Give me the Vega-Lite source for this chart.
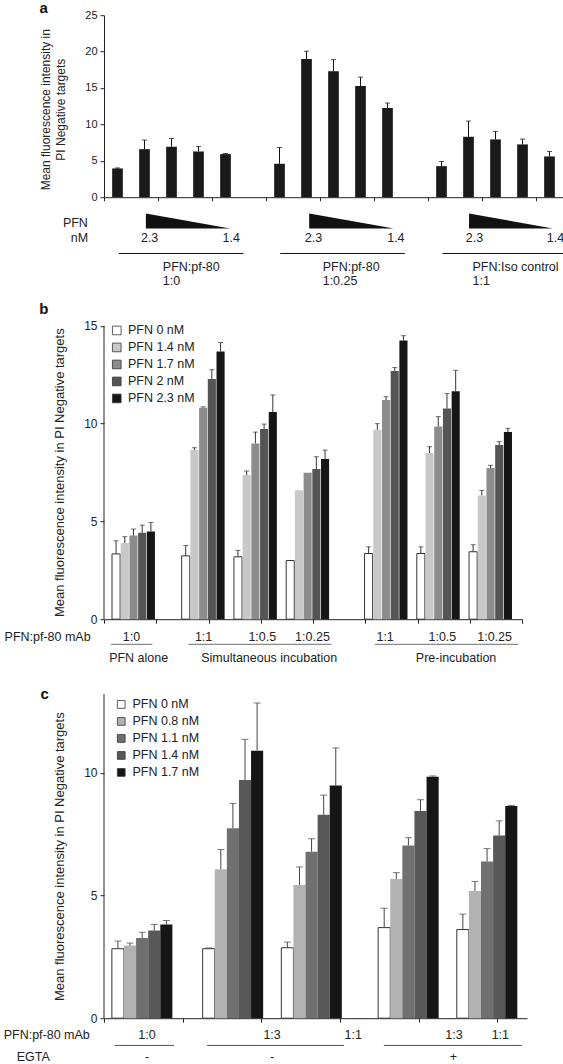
{
  "$schema": "https://vega.github.io/schema/vega-lite/v6.json",
  "background": "white",
  "padding": {"left": 3, "top": 0.2, "right": 0, "bottom": 0},
  "autosize": {"type": "pad"},
  "bounds": "flush",
  "spacing": 20,
  "config": {
    "font": "Liberation Sans",
    "view": {"stroke": null},
    "axis": {"grid": false, "domainColor": "#222", "tickColor": "#222", "labelColor": "#222", "titleColor": "#222", "labelFont": "Liberation Sans", "titleFont": "Liberation Sans", "titleFontWeight": "normal", "tickSize": 4, "labelPadding": 3, "domainWidth": 1, "tickWidth": 1, "labelOverlap": false},
    "legend": {"labelFont": "Liberation Sans", "labelColor": "#222"}
  },
  "resolve": {"scale": {"fill": "independent"}, "legend": {"fill": "independent"}},
  "datasets": {
    "a_bars": [
      {"group": "PFN:pf-80 1:0", "pfn": "0", "bar": "1:0 0", "value": 3.95, "upper": 4.02},
      {"group": "PFN:pf-80 1:0", "pfn": "2.3", "bar": "1:0 2.3", "value": 6.6, "upper": 7.84},
      {"group": "PFN:pf-80 1:0", "pfn": "2", "bar": "1:0 2", "value": 6.93, "upper": 8.07},
      {"group": "PFN:pf-80 1:0", "pfn": "1.7", "bar": "1:0 1.7", "value": 6.28, "upper": 6.97},
      {"group": "PFN:pf-80 1:0", "pfn": "1.4", "bar": "1:0 1.4", "value": 5.92, "upper": 6.0},
      {"group": "PFN:pf-80 1:0.25", "pfn": "0", "bar": "1:0.25 0", "value": 4.59, "upper": 6.83},
      {"group": "PFN:pf-80 1:0.25", "pfn": "2.3", "bar": "1:0.25 2.3", "value": 18.99, "upper": 20.05},
      {"group": "PFN:pf-80 1:0.25", "pfn": "2", "bar": "1:0.25 2", "value": 17.29, "upper": 18.9},
      {"group": "PFN:pf-80 1:0.25", "pfn": "1.7", "bar": "1:0.25 1.7", "value": 15.28, "upper": 16.5},
      {"group": "PFN:pf-80 1:0.25", "pfn": "1.4", "bar": "1:0.25 1.4", "value": 12.25, "upper": 12.94},
      {"group": "PFN:Iso control 1:1", "pfn": "0", "bar": "Iso 0", "value": 4.27, "upper": 4.9},
      {"group": "PFN:Iso control 1:1", "pfn": "2.3", "bar": "Iso 2.3", "value": 8.3, "upper": 10.46},
      {"group": "PFN:Iso control 1:1", "pfn": "2", "bar": "Iso 2", "value": 7.94, "upper": 9.04},
      {"group": "PFN:Iso control 1:1", "pfn": "1.7", "bar": "Iso 1.7", "value": 7.25, "upper": 7.98},
      {"group": "PFN:Iso control 1:1", "pfn": "1.4", "bar": "Iso 1.4", "value": 5.6, "upper": 6.28}
    ],
    "a_text_c": [
      {"t": "PFN", "xu": -1.06, "yv": -3.61},
      {"t": "nM", "xu": -0.91, "yv": -5.67},
      {"t": "2.3", "xu": 1.69, "yv": -5.67},
      {"t": "1.4", "xu": 4.71, "yv": -5.67},
      {"t": "2.3", "xu": 7.76, "yv": -5.67},
      {"t": "1.4", "xu": 10.81, "yv": -5.67},
      {"t": "2.3", "xu": 13.72, "yv": -5.67},
      {"t": "1.4", "xu": 16.72, "yv": -5.67}
    ],
    "a_text_l": [
      {"t": "PFN:pf-80", "xu": 2.18, "yv": -9.57},
      {"t": "1:0", "xu": 2.18, "yv": -11.54},
      {"t": "PFN:pf-80", "xu": 8.1, "yv": -9.57},
      {"t": "1:0.25", "xu": 8.1, "yv": -11.54},
      {"t": "PFN:Iso control", "xu": 13.65, "yv": -9.57},
      {"t": "1:1", "xu": 13.65, "yv": -11.54}
    ],
    "a_lines": [
      {"x0": 0.55, "x1": 5.16, "yv": -7.73},
      {"x0": 6.53, "x1": 11.14, "yv": -7.73},
      {"x0": 12.54, "x1": 17.06, "yv": -7.73}
    ],
    "a_tri": [
      {"tri": 1, "xu": 1.55, "top": -2.24, "bot": -4.3},
      {"tri": 1, "xu": 4.67, "top": -4.3, "bot": -4.3},
      {"tri": 2, "xu": 7.6, "top": -2.24, "bot": -4.3},
      {"tri": 2, "xu": 10.74, "top": -4.3, "bot": -4.3},
      {"tri": 3, "xu": 13.52, "top": -2.24, "bot": -4.3},
      {"tri": 3, "xu": 16.63, "top": -4.3, "bot": -4.3}
    ],
    "b_bars": [
      {"section": "PFN alone", "ratio": "1:0", "pfn": "PFN 0 nM", "bar": "1:0 0", "value": 3.34, "upper": 4.01},
      {"section": "PFN alone", "ratio": "1:0", "pfn": "PFN 1.4 nM", "bar": "1:0 1.4", "value": 3.89, "upper": 4.22},
      {"section": "PFN alone", "ratio": "1:0", "pfn": "PFN 1.7 nM", "bar": "1:0 1.7", "value": 4.28, "upper": 4.61},
      {"section": "PFN alone", "ratio": "1:0", "pfn": "PFN 2 nM", "bar": "1:0 2", "value": 4.42, "upper": 4.81},
      {"section": "PFN alone", "ratio": "1:0", "pfn": "PFN 2.3 nM", "bar": "1:0 2.3", "value": 4.49, "upper": 4.95},
      {"section": "Simultaneous incubation", "ratio": "1:1", "pfn": "PFN 0 nM", "bar": "S1:1 0", "value": 3.24, "upper": 3.77},
      {"section": "Simultaneous incubation", "ratio": "1:1", "pfn": "PFN 1.4 nM", "bar": "S1:1 1.4", "value": 8.65, "upper": 8.77},
      {"section": "Simultaneous incubation", "ratio": "1:1", "pfn": "PFN 1.7 nM", "bar": "S1:1 1.7", "value": 10.82, "upper": 10.86},
      {"section": "Simultaneous incubation", "ratio": "1:1", "pfn": "PFN 2 nM", "bar": "S1:1 2", "value": 12.29, "upper": 12.76},
      {"section": "Simultaneous incubation", "ratio": "1:1", "pfn": "PFN 2.3 nM", "bar": "S1:1 2.3", "value": 13.69, "upper": 14.15},
      {"section": "Simultaneous incubation", "ratio": "1:0.5", "pfn": "PFN 0 nM", "bar": "S1:0.5 0", "value": 3.19, "upper": 3.52},
      {"section": "Simultaneous incubation", "ratio": "1:0.5", "pfn": "PFN 1.4 nM", "bar": "S1:0.5 1.4", "value": 7.37, "upper": 7.58},
      {"section": "Simultaneous incubation", "ratio": "1:0.5", "pfn": "PFN 1.7 nM", "bar": "S1:0.5 1.7", "value": 8.99, "upper": 9.57},
      {"section": "Simultaneous incubation", "ratio": "1:0.5", "pfn": "PFN 2 nM", "bar": "S1:0.5 2", "value": 9.73, "upper": 9.98},
      {"section": "Simultaneous incubation", "ratio": "1:0.5", "pfn": "PFN 2.3 nM", "bar": "S1:0.5 2.3", "value": 10.6, "upper": 11.47},
      {"section": "Simultaneous incubation", "ratio": "1:0.25", "pfn": "PFN 0 nM", "bar": "S1:0.25 0", "value": 3.0, "upper": 3.0},
      {"section": "Simultaneous incubation", "ratio": "1:0.25", "pfn": "PFN 1.4 nM", "bar": "S1:0.25 1.4", "value": 6.59, "upper": 6.59},
      {"section": "Simultaneous incubation", "ratio": "1:0.25", "pfn": "PFN 1.7 nM", "bar": "S1:0.25 1.7", "value": 7.49, "upper": 7.49},
      {"section": "Simultaneous incubation", "ratio": "1:0.25", "pfn": "PFN 2 nM", "bar": "S1:0.25 2", "value": 7.68, "upper": 8.31},
      {"section": "Simultaneous incubation", "ratio": "1:0.25", "pfn": "PFN 2.3 nM", "bar": "S1:0.25 2.3", "value": 8.19, "upper": 8.65},
      {"section": "Pre-incubation", "ratio": "1:1", "pfn": "PFN 0 nM", "bar": "P1:1 0", "value": 3.36, "upper": 3.7},
      {"section": "Pre-incubation", "ratio": "1:1", "pfn": "PFN 1.4 nM", "bar": "P1:1 1.4", "value": 9.69, "upper": 10.0},
      {"section": "Pre-incubation", "ratio": "1:1", "pfn": "PFN 1.7 nM", "bar": "P1:1 1.7", "value": 11.21, "upper": 11.38},
      {"section": "Pre-incubation", "ratio": "1:1", "pfn": "PFN 2 nM", "bar": "P1:1 2", "value": 12.7, "upper": 12.87},
      {"section": "Pre-incubation", "ratio": "1:1", "pfn": "PFN 2.3 nM", "bar": "P1:1 2.3", "value": 14.25, "upper": 14.5},
      {"section": "Pre-incubation", "ratio": "1:0.5", "pfn": "PFN 0 nM", "bar": "P1:0.5 0", "value": 3.36, "upper": 3.7},
      {"section": "Pre-incubation", "ratio": "1:0.5", "pfn": "PFN 1.4 nM", "bar": "P1:0.5 1.4", "value": 8.5, "upper": 8.82},
      {"section": "Pre-incubation", "ratio": "1:0.5", "pfn": "PFN 1.7 nM", "bar": "P1:0.5 1.7", "value": 9.85, "upper": 10.36},
      {"section": "Pre-incubation", "ratio": "1:0.5", "pfn": "PFN 2 nM", "bar": "P1:0.5 2", "value": 10.78, "upper": 11.54},
      {"section": "Pre-incubation", "ratio": "1:0.5", "pfn": "PFN 2.3 nM", "bar": "P1:0.5 2.3", "value": 11.66, "upper": 12.73},
      {"section": "Pre-incubation", "ratio": "1:0.25", "pfn": "PFN 0 nM", "bar": "P1:0.25 0", "value": 3.45, "upper": 3.81},
      {"section": "Pre-incubation", "ratio": "1:0.25", "pfn": "PFN 1.4 nM", "bar": "P1:0.25 1.4", "value": 6.33, "upper": 6.59},
      {"section": "Pre-incubation", "ratio": "1:0.25", "pfn": "PFN 1.7 nM", "bar": "P1:0.25 1.7", "value": 7.73, "upper": 7.87},
      {"section": "Pre-incubation", "ratio": "1:0.25", "pfn": "PFN 2 nM", "bar": "P1:0.25 2", "value": 8.91, "upper": 9.08},
      {"section": "Pre-incubation", "ratio": "1:0.25", "pfn": "PFN 2.3 nM", "bar": "P1:0.25 2.3", "value": 9.57, "upper": 9.76}
    ],
    "b_text": [
      {"t": "PFN:pf-80 mAb", "xu": -1.08, "yv": -0.905},
      {"t": "1:0", "xu": 0.526, "yv": -0.905},
      {"t": "1:1", "xu": 1.906, "yv": -0.905},
      {"t": "1:0.5", "xu": 3.03, "yv": -0.905},
      {"t": "1:0.25", "xu": 3.99, "yv": -0.905},
      {"t": "1:1", "xu": 5.38, "yv": -0.905},
      {"t": "1:0.5", "xu": 6.476, "yv": -0.905},
      {"t": "1:0.25", "xu": 7.476, "yv": -0.905},
      {"t": "PFN alone", "xu": 0.663, "yv": -1.96},
      {"t": "Simultaneous incubation", "xu": 3.162, "yv": -1.96},
      {"t": "Pre-incubation", "xu": 6.738, "yv": -1.96}
    ],
    "b_lines": [
      {"x0": 0.132, "x1": 0.925, "yv": -1.29},
      {"x0": 1.616, "x1": 4.356, "yv": -1.29},
      {"x0": 5.184, "x1": 7.925, "yv": -1.29}
    ],
    "c_bars": [
      {"ratio": "1:0", "egta": "-", "pfn": "PFN 0 nM", "bar": "1:0- 0", "value": 2.83, "upper": 3.14},
      {"ratio": "1:0", "egta": "-", "pfn": "PFN 0.8 nM", "bar": "1:0- 0.8", "value": 2.96, "upper": 3.06},
      {"ratio": "1:0", "egta": "-", "pfn": "PFN 1.1 nM", "bar": "1:0- 1.1", "value": 3.27, "upper": 3.5},
      {"ratio": "1:0", "egta": "-", "pfn": "PFN 1.4 nM", "bar": "1:0- 1.4", "value": 3.57, "upper": 3.82},
      {"ratio": "1:0", "egta": "-", "pfn": "PFN 1.7 nM", "bar": "1:0- 1.7", "value": 3.82, "upper": 3.98},
      {"ratio": "1:3", "egta": "-", "pfn": "PFN 0 nM", "bar": "1:3- 0", "value": 2.83, "upper": 2.86},
      {"ratio": "1:3", "egta": "-", "pfn": "PFN 0.8 nM", "bar": "1:3- 0.8", "value": 6.07, "upper": 6.87},
      {"ratio": "1:3", "egta": "-", "pfn": "PFN 1.1 nM", "bar": "1:3- 1.1", "value": 7.74, "upper": 8.75},
      {"ratio": "1:3", "egta": "-", "pfn": "PFN 1.4 nM", "bar": "1:3- 1.4", "value": 9.7, "upper": 11.36},
      {"ratio": "1:3", "egta": "-", "pfn": "PFN 1.7 nM", "bar": "1:3- 1.7", "value": 10.9, "upper": 12.84},
      {"ratio": "1:1", "egta": "-", "pfn": "PFN 0 nM", "bar": "1:1- 0", "value": 2.87, "upper": 3.1},
      {"ratio": "1:1", "egta": "-", "pfn": "PFN 0.8 nM", "bar": "1:1- 0.8", "value": 5.43, "upper": 6.16},
      {"ratio": "1:1", "egta": "-", "pfn": "PFN 1.1 nM", "bar": "1:1- 1.1", "value": 6.78, "upper": 7.31},
      {"ratio": "1:1", "egta": "-", "pfn": "PFN 1.4 nM", "bar": "1:1- 1.4", "value": 8.29, "upper": 9.09},
      {"ratio": "1:1", "egta": "-", "pfn": "PFN 1.7 nM", "bar": "1:1- 1.7", "value": 9.48, "upper": 11.01},
      {"ratio": "1:3", "egta": "+", "pfn": "PFN 0 nM", "bar": "1:3+ 0", "value": 3.69, "upper": 4.48},
      {"ratio": "1:3", "egta": "+", "pfn": "PFN 0.8 nM", "bar": "1:3+ 0.8", "value": 5.67, "upper": 5.93},
      {"ratio": "1:3", "egta": "+", "pfn": "PFN 1.1 nM", "bar": "1:3+ 1.1", "value": 7.04, "upper": 7.35},
      {"ratio": "1:3", "egta": "+", "pfn": "PFN 1.4 nM", "bar": "1:3+ 1.4", "value": 8.44, "upper": 8.9},
      {"ratio": "1:3", "egta": "+", "pfn": "PFN 1.7 nM", "bar": "1:3+ 1.7", "value": 9.84, "upper": 9.87},
      {"ratio": "1:1", "egta": "+", "pfn": "PFN 0 nM", "bar": "1:1+ 0", "value": 3.61, "upper": 4.24},
      {"ratio": "1:1", "egta": "+", "pfn": "PFN 0.8 nM", "bar": "1:1+ 0.8", "value": 5.18, "upper": 5.57},
      {"ratio": "1:1", "egta": "+", "pfn": "PFN 1.1 nM", "bar": "1:1+ 1.1", "value": 6.38, "upper": 6.91},
      {"ratio": "1:1", "egta": "+", "pfn": "PFN 1.4 nM", "bar": "1:1+ 1.4", "value": 7.44, "upper": 8.04},
      {"ratio": "1:1", "egta": "+", "pfn": "PFN 1.7 nM", "bar": "1:1+ 1.7", "value": 8.64, "upper": 8.67}
    ],
    "c_text": [
      {"t": "PFN:pf-80 mAb", "xu": -0.728, "yv": -0.676},
      {"t": "1:0", "xu": 0.546, "yv": -0.676},
      {"t": "1:3", "xu": 2.136, "yv": -0.676},
      {"t": "1:1", "xu": 3.166, "yv": -0.676},
      {"t": "1:3", "xu": 4.448, "yv": -0.676},
      {"t": "1:1", "xu": 5.036, "yv": -0.676},
      {"t": "EGTA", "xu": -0.9, "yv": -1.59},
      {"t": "-", "xu": 0.546, "yv": -1.59},
      {"t": "-", "xu": 2.136, "yv": -1.59},
      {"t": "+", "xu": 4.44, "yv": -1.59}
    ],
    "c_lines": [
      {"x0": 0.133, "x1": 0.89, "yv": -1.11},
      {"x0": 1.31, "x1": 3.05, "yv": -1.11},
      {"x0": 3.556, "x1": 5.31, "yv": -1.11}
    ]
  },
  "vconcat": [
    {
      "width": 459,
      "height": 182,
      "resolve": {"scale": {"x": "independent"}},
      "layer": [
        {
          "data": {"name": "a_bars"},
          "layer": [
            {
              "mark": {"type": "bar", "color": "#1a1a1a"},
              "encoding": {
                "x": {"field": "bar", "type": "nominal", "scale": {"domain": ["1:0 0", "1:0 2.3", "1:0 2", "1:0 1.7", "1:0 1.4", "ga5", "1:0.25 0", "1:0.25 2.3", "1:0.25 2", "1:0.25 1.7", "1:0.25 1.4", "ga11", "Iso 0", "Iso 2.3", "Iso 2", "Iso 1.7", "Iso 1.4"], "paddingInner": 0.604, "paddingOuter": 0.302}, "axis": null},
                "y": {"field": "value", "type": "quantitative", "scale": {"domain": [0, 25], "nice": false}, "axis": {"values": [0, 5, 10, 15, 20, 25], "tickCount": 6, "labelOverlap": false, "title": ["Mean fluorescence intensity in", "PI Negative targets"], "labelFontSize": 11, "titleFontSize": 12, "titleLineHeight": 14.5, "titlePadding": 17.5, "titleY": 94}}
              }
            },
            {
              "transform": [{"filter": "datum.upper > datum.value"}],
              "mark": {"type": "rule", "color": "#111", "strokeWidth": 1},
              "encoding": {
                "x": {"field": "bar", "type": "nominal", "axis": null},
                "y": {"field": "value", "type": "quantitative", "scale": {"domain": [0, 25], "nice": false}, "axis": {"values": [0, 5, 10, 15, 20, 25], "tickCount": 6, "labelOverlap": false, "title": ["Mean fluorescence intensity in", "PI Negative targets"], "labelFontSize": 11, "titleFontSize": 12, "titleLineHeight": 14.5, "titlePadding": 17.5, "titleY": 94}},
                "y2": {"field": "upper"}
              }
            },
            {
              "transform": [{"filter": "datum.upper > datum.value"}],
              "mark": {"type": "tick", "color": "#111", "size": 5, "thickness": 1},
              "encoding": {
                "x": {"field": "bar", "type": "nominal", "axis": null},
                "y": {"field": "upper", "type": "quantitative", "scale": {"domain": [0, 25], "nice": false}, "axis": {"values": [0, 5, 10, 15, 20, 25], "tickCount": 6, "labelOverlap": false, "title": ["Mean fluorescence intensity in", "PI Negative targets"], "labelFontSize": 11, "titleFontSize": 12, "titleLineHeight": 14.5, "titlePadding": 17.5, "titleY": 94}}
              }
            }
          ]
        },
        {
          "layer": [
            {
              "data": {"name": "a_lines"},
              "mark": {"type": "rule", "color": "#111", "strokeWidth": 1},
              "encoding": {
                "x": {"field": "x0", "type": "quantitative", "scale": {"domain": [0, 17], "nice": false, "zero": false}, "axis": {"orient": "bottom", "values": [0, 1, 2, 3, 4, 5, 6, 7, 8, 9, 10, 11, 12, 13, 14, 15, 16, 17], "labels": false, "title": null, "tickSize": 3.5}},
                "x2": {"field": "x1"},
                "y": {"field": "yv", "type": "quantitative", "scale": {"domain": [0, 25], "nice": false}, "axis": {"values": [0, 5, 10, 15, 20, 25], "tickCount": 6, "labelOverlap": false, "title": ["Mean fluorescence intensity in", "PI Negative targets"], "labelFontSize": 11, "titleFontSize": 12, "titleLineHeight": 14.5, "titlePadding": 17.5, "titleY": 94}}
              }
            },
            {
              "data": {"name": "a_tri"},
              "mark": {"type": "area", "color": "#111", "interpolate": "linear"},
              "encoding": {
                "x": {"field": "xu", "type": "quantitative", "scale": {"domain": [0, 17], "nice": false, "zero": false}},
                "y": {"field": "top", "type": "quantitative", "scale": {"domain": [0, 25], "nice": false}, "axis": {"values": [0, 5, 10, 15, 20, 25], "tickCount": 6, "labelOverlap": false, "title": ["Mean fluorescence intensity in", "PI Negative targets"], "labelFontSize": 11, "titleFontSize": 12, "titleLineHeight": 14.5, "titlePadding": 17.5, "titleY": 94}},
                "y2": {"field": "bot"},
                "detail": {"field": "tri", "type": "nominal"}
              }
            },
            {
              "data": {"name": "a_text_c"},
              "mark": {"type": "text", "fontSize": 12.5, "color": "#222", "align": "center", "baseline": "middle"},
              "encoding": {
                "x": {"field": "xu", "type": "quantitative", "scale": {"domain": [0, 17], "nice": false, "zero": false}},
                "y": {"field": "yv", "type": "quantitative", "scale": {"domain": [0, 25], "nice": false}, "axis": {"values": [0, 5, 10, 15, 20, 25], "tickCount": 6, "labelOverlap": false, "title": ["Mean fluorescence intensity in", "PI Negative targets"], "labelFontSize": 11, "titleFontSize": 12, "titleLineHeight": 14.5, "titlePadding": 17.5, "titleY": 94}},
                "text": {"field": "t"}
              }
            },
            {
              "data": {"name": "a_text_l"},
              "mark": {"type": "text", "fontSize": 12.5, "color": "#222", "align": "left", "baseline": "middle"},
              "encoding": {
                "x": {"field": "xu", "type": "quantitative", "scale": {"domain": [0, 17], "nice": false, "zero": false}},
                "y": {"field": "yv", "type": "quantitative", "scale": {"domain": [0, 25], "nice": false}, "axis": {"values": [0, 5, 10, 15, 20, 25], "tickCount": 6, "labelOverlap": false, "title": ["Mean fluorescence intensity in", "PI Negative targets"], "labelFontSize": 11, "titleFontSize": 12, "titleLineHeight": 14.5, "titlePadding": 17.5, "titleY": 94}},
                "text": {"field": "t"}
              }
            },
            {
              "data": {"values": [{}]},
              "mark": {"type": "text", "fontSize": 15, "fontWeight": "bold", "color": "#111", "align": "center", "baseline": "alphabetic"},
              "encoding": {
                "x": {"datum": -2.23, "type": "quantitative", "scale": {"domain": [0, 17], "nice": false, "zero": false}},
                "y": {"datum": 25.34, "type": "quantitative", "scale": {"domain": [0, 25], "nice": false}, "axis": {"values": [0, 5, 10, 15, 20, 25], "tickCount": 6, "labelOverlap": false, "title": ["Mean fluorescence intensity in", "PI Negative targets"], "labelFontSize": 11, "titleFontSize": 12, "titleLineHeight": 14.5, "titlePadding": 17.5, "titleY": 94}},
                "text": {"value": "a"}
              }
            }
          ]
        }
      ]
    },
    {
      "width": 418,
      "height": 402,
      "resolve": {"scale": {"x": "independent"}},
      "layer": [
        {
          "data": {"name": "b_bars"},
          "layer": [
            {
              "mark": {"type": "bar", "stroke": "#333"},
              "encoding": {
                "x": {"field": "bar", "type": "nominal", "scale": {"domain": ["1:0 0", "1:0 1.4", "1:0 1.7", "1:0 2", "1:0 2.3", "gb5", "gb6", "gb7", "S1:1 0", "S1:1 1.4", "S1:1 1.7", "S1:1 2", "S1:1 2.3", "gb13", "S1:0.5 0", "S1:0.5 1.4", "S1:0.5 1.7", "S1:0.5 2", "S1:0.5 2.3", "gb19", "S1:0.25 0", "S1:0.25 1.4", "S1:0.25 1.7", "S1:0.25 2", "S1:0.25 2.3", "gb25", "gb26", "gb27", "gb28", "P1:1 0", "P1:1 1.4", "P1:1 1.7", "P1:1 2", "P1:1 2.3", "gb34", "P1:0.5 0", "P1:0.5 1.4", "P1:0.5 1.7", "P1:0.5 2", "P1:0.5 2.3", "gb40", "P1:0.25 0", "P1:0.25 1.4", "P1:0.25 1.7", "P1:0.25 2", "P1:0.25 2.3", "gb46"], "paddingInner": 0.07, "paddingOuter": 0.535, "align": 0.86}, "axis": null},
                "y": {"field": "value", "type": "quantitative", "scale": {"domain": [0, 20.56], "nice": false}, "axis": {"values": [0, 5, 10, 15], "labelOverlap": false, "domain": false, "title": "Mean fluorescence intensity in PI Negative targets", "titleY": 255, "titlePadding": 17, "labelFontSize": 12, "titleFontSize": 13}},
                "fill": {"field": "pfn", "type": "nominal", "scale": {"domain": ["PFN 0 nM", "PFN 1.4 nM", "PFN 1.7 nM", "PFN 2 nM", "PFN 2.3 nM"], "range": ["#ffffff", "#c8c8c8", "#8c8c8c", "#555555", "#161616"]}, "legend": {"orient": "none", "legendX": 6.5, "legendY": 107, "title": null, "symbolType": "square", "symbolSize": 75, "labelFontSize": 12.5, "labelOffset": 5, "rowPadding": 4, "padding": 0, "symbolStrokeColor": "#333", "symbolStrokeWidth": 0.8}},
                "strokeWidth": {"condition": {"test": "datum.pfn === 'PFN 0 nM'", "value": 1}, "value": 0}
              }
            },
            {
              "transform": [{"filter": "datum.upper > datum.value"}],
              "mark": {"type": "rule", "color": "#333", "strokeWidth": 1},
              "encoding": {
                "x": {"field": "bar", "type": "nominal", "axis": null},
                "y": {"field": "value", "type": "quantitative", "scale": {"domain": [0, 20.56], "nice": false}},
                "y2": {"field": "upper"}
              }
            },
            {
              "transform": [{"filter": "datum.upper > datum.value"}],
              "mark": {"type": "tick", "color": "#333", "size": 5, "thickness": 1},
              "encoding": {
                "x": {"field": "bar", "type": "nominal", "axis": null},
                "y": {"field": "upper", "type": "quantitative", "scale": {"domain": [0, 20.56], "nice": false}}
              }
            }
          ]
        },
        {
          "layer": [
            {
              "data": {"values": [{}]},
              "mark": {"type": "rule", "color": "#222", "strokeWidth": 1},
              "encoding": {
                "x": {"datum": 0, "type": "quantitative", "scale": {"domain": [0, 8], "nice": false, "zero": false}, "axis": {"orient": "bottom", "values": [0, 1, 2, 3, 4, 5, 6, 7, 8], "labels": false, "title": null, "tickSize": 4}},
                "y": {"datum": 0, "type": "quantitative", "scale": {"domain": [0, 20.56], "nice": false}},
                "y2": {"datum": 15}
              }
            },
            {
              "data": {"name": "b_lines"},
              "mark": {"type": "rule", "color": "#8a8a8a", "strokeWidth": 1.2},
              "encoding": {
                "x": {"field": "x0", "type": "quantitative", "scale": {"domain": [0, 8], "nice": false, "zero": false}},
                "x2": {"field": "x1"},
                "y": {"field": "yv", "type": "quantitative", "scale": {"domain": [0, 20.56], "nice": false}}
              }
            },
            {
              "data": {"name": "b_text"},
              "mark": {"type": "text", "fontSize": 12.5, "color": "#222", "align": "center", "baseline": "middle"},
              "encoding": {
                "x": {"field": "xu", "type": "quantitative", "scale": {"domain": [0, 8], "nice": false, "zero": false}},
                "y": {"field": "yv", "type": "quantitative", "scale": {"domain": [0, 20.56], "nice": false}},
                "text": {"field": "t"}
              }
            },
            {
              "data": {"values": [{}]},
              "mark": {"type": "text", "fontSize": 15, "fontWeight": "bold", "color": "#111", "align": "center", "baseline": "alphabetic"},
              "encoding": {
                "x": {"datum": -1.15, "type": "quantitative", "scale": {"domain": [0, 8], "nice": false, "zero": false}},
                "y": {"datum": 15.6, "type": "quantitative", "scale": {"domain": [0, 20.56], "nice": false}},
                "text": {"value": "b"}
              }
            }
          ]
        }
      ]
    },
    {
      "width": 423,
      "height": 379,
      "resolve": {"scale": {"x": "independent"}},
      "layer": [
        {
          "data": {"name": "c_bars"},
          "layer": [
            {
              "mark": {"type": "bar", "stroke": "#333", "width": 12.1},
              "encoding": {
                "x": {"field": "bar", "type": "nominal", "scale": {"domain": ["gc0", "1:0- 0", "gc2", "1:0- 0.8", "gc4", "1:0- 1.1", "gc6", "1:0- 1.4", "gc8", "1:0- 1.7", "gc10", "gc11", "gc12", "gc13", "gc14", "gc15", "1:3- 0", "gc17", "1:3- 0.8", "gc19", "1:3- 1.1", "gc21", "1:3- 1.4", "gc23", "1:3- 1.7", "gc25", "gc26", "gc27", "gc28", "1:1- 0", "gc30", "1:1- 0.8", "gc32", "1:1- 1.1", "gc34", "1:1- 1.4", "gc36", "1:1- 1.7", "gc38", "gc39", "gc40", "gc41", "gc42", "gc43", "gc44", "1:3+ 0", "gc46", "1:3+ 0.8", "gc48", "1:3+ 1.1", "gc50", "1:3+ 1.4", "gc52", "1:3+ 1.7", "gc54", "gc55", "gc56", "gc57", "1:1+ 0", "gc59", "1:1+ 0.8", "gc61", "1:1+ 1.1", "gc63", "1:1+ 1.4", "gc65", "1:1+ 1.7", "gc67", "gc68"], "paddingInner": 0, "paddingOuter": 0.45, "align": 0.89}, "axis": null},
                "y": {"field": "value", "type": "quantitative", "scale": {"domain": [0, 15.44], "nice": false}, "axis": {"values": [0, 5, 10], "labelOverlap": false, "domain": false, "title": "Mean fluorescence intensity in PI Negative targets", "titleY": 217, "titlePadding": 17, "labelFontSize": 12, "titleFontSize": 13}},
                "fill": {"field": "pfn", "type": "nominal", "scale": {"domain": ["PFN 0 nM", "PFN 0.8 nM", "PFN 1.1 nM", "PFN 1.4 nM", "PFN 1.7 nM"], "range": ["#ffffff", "#b2b2b2", "#707070", "#585858", "#161616"]}, "legend": {"orient": "none", "legendX": 11, "legendY": 59, "title": null, "symbolType": "square", "symbolSize": 60, "labelFontSize": 12.5, "labelOffset": 5, "rowPadding": 4, "padding": 0, "symbolStrokeColor": "#333", "symbolStrokeWidth": 0.8}},
                "strokeWidth": {"condition": {"test": "datum.pfn === 'PFN 0 nM'", "value": 1}, "value": 0}
              }
            },
            {
              "transform": [{"filter": "datum.upper > datum.value"}],
              "mark": {"type": "rule", "color": "#444", "strokeWidth": 1},
              "encoding": {
                "x": {"field": "bar", "type": "nominal", "axis": null},
                "y": {"field": "value", "type": "quantitative", "scale": {"domain": [0, 15.44], "nice": false}},
                "y2": {"field": "upper"}
              }
            },
            {
              "transform": [{"filter": "datum.upper > datum.value"}],
              "mark": {"type": "tick", "color": "#444", "size": 7, "thickness": 1},
              "encoding": {
                "x": {"field": "bar", "type": "nominal", "axis": null},
                "y": {"field": "upper", "type": "quantitative", "scale": {"domain": [0, 15.44], "nice": false}}
              }
            }
          ]
        },
        {
          "layer": [
            {
              "data": {"values": [{}]},
              "mark": {"type": "rule", "color": "#222", "strokeWidth": 1},
              "encoding": {
                "x": {"datum": 0, "type": "quantitative", "scale": {"domain": [0, 5.375], "nice": false, "zero": false}, "axis": {"orient": "bottom", "values": [0, 1, 2, 3, 4, 5], "labels": false, "title": null, "tickSize": 4}},
                "y": {"datum": 0, "type": "quantitative", "scale": {"domain": [0, 15.44], "nice": false}},
                "y2": {"datum": 13.2}
              }
            },
            {
              "data": {"name": "c_lines"},
              "mark": {"type": "rule", "color": "#555", "strokeWidth": 1},
              "encoding": {
                "x": {"field": "x0", "type": "quantitative", "scale": {"domain": [0, 5.375], "nice": false, "zero": false}},
                "x2": {"field": "x1"},
                "y": {"field": "yv", "type": "quantitative", "scale": {"domain": [0, 15.44], "nice": false}}
              }
            },
            {
              "data": {"name": "c_text"},
              "mark": {"type": "text", "fontSize": 12.5, "color": "#222", "align": "center", "baseline": "middle"},
              "encoding": {
                "x": {"field": "xu", "type": "quantitative", "scale": {"domain": [0, 5.375], "nice": false, "zero": false}},
                "y": {"field": "yv", "type": "quantitative", "scale": {"domain": [0, 15.44], "nice": false}},
                "text": {"field": "t"}
              }
            },
            {
              "data": {"values": [{}]},
              "mark": {"type": "text", "fontSize": 15, "fontWeight": "bold", "color": "#111", "align": "center", "baseline": "alphabetic"},
              "encoding": {
                "x": {"datum": -0.755, "type": "quantitative", "scale": {"domain": [0, 5.375], "nice": false, "zero": false}},
                "y": {"datum": 13.01, "type": "quantitative", "scale": {"domain": [0, 15.44], "nice": false}},
                "text": {"value": "c"}
              }
            }
          ]
        }
      ]
    }
  ]
}
